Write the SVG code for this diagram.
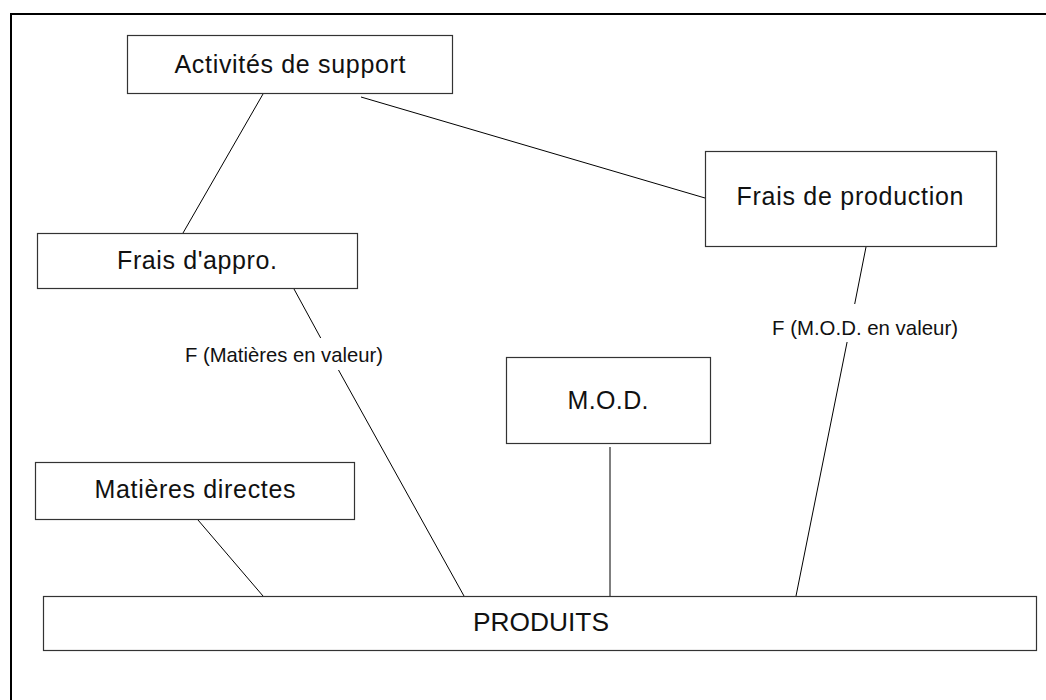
<svg xmlns="http://www.w3.org/2000/svg" width="1046" height="700" viewBox="0 0 1046 700">
<style>
.box{fill:#fff;stroke:#333;stroke-width:1.2}
.t{font-family:"Liberation Sans",Arial,sans-serif;font-size:25px;fill:#111;text-anchor:middle}
.lbl{font-family:"Liberation Sans",Arial,sans-serif;font-size:21px;fill:#111;text-anchor:middle}
.c{stroke:#000;stroke-width:1;fill:none}
</style>
<rect width="1046" height="700" fill="#fff"/>
<path d="M11,701 V14 H1046" fill="none" stroke="#000" stroke-width="2"/>
<g id="connectors">
<line class="c" x1="263" y1="94" x2="183" y2="233"/>
<line class="c" x1="361" y1="97" x2="705" y2="198"/>
<line class="c" x1="294" y1="289" x2="320.7" y2="338"/>
<line class="c" x1="338.5" y1="370" x2="464" y2="596"/>
<line class="c" x1="866" y1="247" x2="854.7" y2="304"/>
<line class="c" x1="847.1" y1="342" x2="796" y2="596"/>
<line class="c" x1="610" y1="447" x2="610" y2="596"/>
<line class="c" x1="198" y1="520" x2="263" y2="596"/>
<text class="lbl" x="284" y="362" textLength="198" lengthAdjust="spacingAndGlyphs">F (Matières en valeur)</text>
<text class="lbl" x="865" y="335" textLength="186" lengthAdjust="spacingAndGlyphs">F (M.O.D. en valeur)</text>
</g>
<g id="activites">
<rect class="box" x="127.5" y="35.5" width="325" height="58"/>
<text class="t" x="290" y="73" textLength="231">Activités de support</text>
</g>
<g id="frais-appro">
<rect class="box" x="37.5" y="233.5" width="320" height="55"/>
<text class="t" x="197" y="269" textLength="160">Frais d'appro.</text>
</g>
<g id="frais-production">
<rect class="box" x="705.5" y="151.5" width="291" height="95"/>
<text class="t" x="850" y="205" textLength="227">Frais de production</text>
</g>
<g id="mod">
<rect class="box" x="506.5" y="357.5" width="204" height="86"/>
<text class="t" x="608" y="409" textLength="81">M.O.D.</text>
</g>
<g id="matieres-directes">
<rect class="box" x="35.5" y="462.5" width="319" height="57"/>
<text class="t" x="195" y="498" textLength="201">Matières directes</text>
</g>
<g id="produits">
<rect class="box" x="43.5" y="596.5" width="993" height="54"/>
<text class="t" x="541" y="631" textLength="136" lengthAdjust="spacingAndGlyphs">PRODUITS</text>
</g>
</svg>
